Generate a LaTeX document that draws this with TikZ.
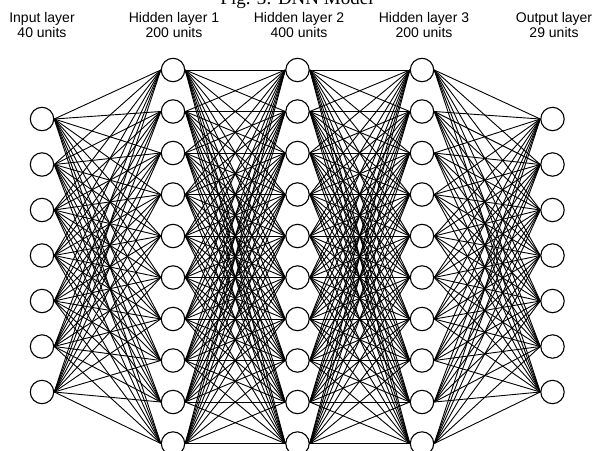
\documentclass[tikz,border=0pt]{standalone}
\usepackage{fontspec}
\setmainfont{Liberation Sans}
\newfontfamily\titlefont{Liberation Serif}

\tikzset{every picture/.style={line width=0.9pt}}
\tikzset{unit/.style={circle,draw,fill=white,minimum size=23.4pt,inner sep=0pt,line width=1.1pt},
	layername/.style={align=center,anchor=base,inner sep=0pt,font=\fontsize{14}{15.4}\selectfont}}

\begin{document}
\begin{tikzpicture}[x=1pt,y=-1pt]
	\useasboundingbox (0,0) rectangle (593,450);
	% title, cut by the top edge
	\node [anchor=base,inner sep=0pt,font=\titlefont\fontsize{19}{21}\selectfont] (title) at (297,4) {Fig. 3: DNN Model};
	% layer names
	\node [layername] (inname) at (42,37.7) {Input layer\\40 units};
	\node [layername] (hanname) at (174,37.7) {Hidden layer 1\\200 units};
	\node [layername] (hbname) at (299,37.7) {Hidden layer 2\\400 units};
	\node [layername] (hcname) at (424,37.7) {Hidden layer 3\\200 units};
	\node [layername] (outname) at (554,37.7) {Output layer\\29 units};
	% units
	\foreach \i in {1,...,7} {
		\node [unit] (in-\i) at (42,{119+45.5*(\i-1)}) {};
		\node [unit] (out-\i) at (552.5,{119+45.5*(\i-1)}) {};
	}
	\foreach \i in {1,...,10} {
		\node [unit] (ha-\i) at (173,{70+41.5*(\i-1)}) {};
		\node [unit] (hb-\i) at (297.5,{70+41.5*(\i-1)}) {};
		\node [unit] (hc-\i) at (422,{70+41.5*(\i-1)}) {};
	}
	% connections
	\foreach \i in {1,...,10} {
		\foreach \j in {1,...,7} {
			\draw (in-\j.east) -- (ha-\i.west);
			\draw (hc-\i.east) -- (out-\j.west);
		}
		\foreach \j in {1,...,10} {
			\draw (ha-\i.east) -- (hb-\j.west);
			\draw (hb-\i.east) -- (hc-\j.west);
		}
	}
\end{tikzpicture}
\end{document}
